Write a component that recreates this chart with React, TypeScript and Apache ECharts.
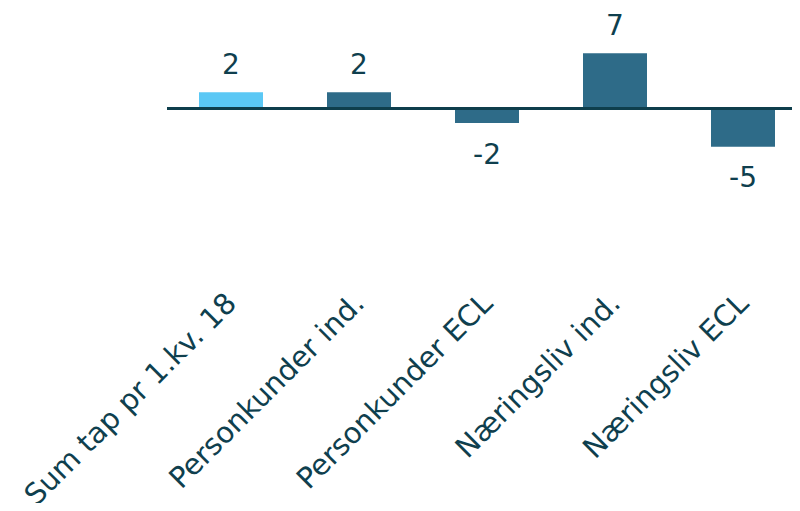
import React, { useEffect, useRef } from "react";
import * as echarts from "echarts";

const categories = [
  "Sum tap pr 1.kv. 18",
  "Personkunder ind.",
  "Personkunder ECL",
  "Næringsliv ind.",
  "Næringsliv ECL",
];
const values = [2.0, 2.0, -1.95, 7.0, -5.0];
const barColors = ["#5BC8F5", "#2E6B88", "#2E6B88", "#2E6B88", "#2E6B88"];

const TEXT = "#0F3F4E";
const FONT = "DejaVu Sans";

export default function App() {
  const ref = useRef<HTMLDivElement>(null);
  useEffect(() => {
    if (!ref.current) return;
    const chart = echarts.init(ref.current, null, { renderer: "svg" });
    const pxPerUnit = 7.8;
    const zeroY = 107.8;
    const maxV = 8;
    const bottomY = 290;
    const top = zeroY - maxV * pxPerUnit;
    const minV = -(bottomY - zeroY) / pxPerUnit;
    chart.setOption({
      animation: false,
      grid: {
        left: 167,
        width: 640,
        top,
        height: bottomY - top,
        containLabel: false,
        outerBoundsMode: "none",
      },
      xAxis: {
        type: "category",
        data: categories,
        axisLine: { show: false, onZero: false },
        axisTick: { show: false },
        axisLabel: {
          rotate: 45,
          interval: 0,
          margin: 8,
          color: TEXT,
          fontFamily: FONT,
          fontSize: 29,
        },
      },
      yAxis: {
        type: "value",
        min: minV,
        max: maxV,
        show: false,
        splitLine: { show: false },
      },
      series: [
        {
          type: "bar",
          barWidth: "50%",
          data: values.map((v, i) => ({
            value: v,
            itemStyle: { color: barColors[i] },
            label: {
              show: true,
              position: v >= 0 ? "top" : "bottom",
              distance: v >= 0 ? 14 : 17,
              formatter: () => String(Math.round(v)),
              color: TEXT,
              fontFamily: FONT,
              fontSize: 28,
            },
          })),
          markLine: {
            silent: true,
            symbol: "none",
            label: { show: false },
            lineStyle: { color: "#0E3E4C", width: 3, type: "solid" },
            data: [{ yAxis: 0 }],
          },
        },
      ],
    });
    return () => chart.dispose();
  }, []);
  return <div ref={ref} style={{ width: 800, height: 511, margin: -8 }} />;
}
